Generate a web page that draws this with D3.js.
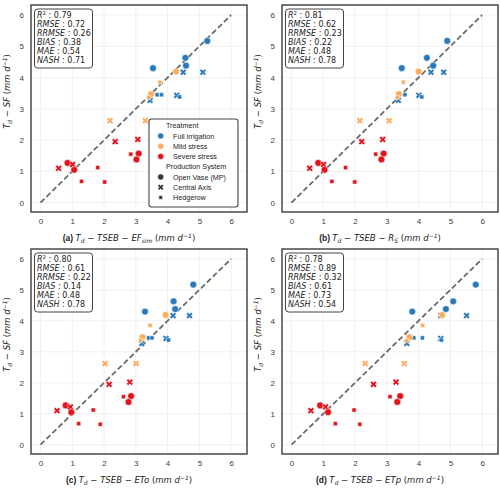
<!DOCTYPE html>
<html><head><meta charset="utf-8">
<script src="https://cdnjs.cloudflare.com/ajax/libs/d3/7.8.5/d3.min.js"></script>
<style>
body{margin:0;background:#fff;}
svg{display:block;}
</style></head>
<body>
<svg id="chart" width="500" height="488"></svg>
<script>
// ---------------- data ----------------
const treatments = ["Full irrigation","Mild stress","Severe stress"];
const systems = ["Open Vase (MP)","Central Axis","Hedgerow"];
const treatment = ["Full irrigation","Full irrigation","Full irrigation","Full irrigation","Full irrigation","Full irrigation","Full irrigation","Full irrigation","Full irrigation","Full irrigation","Full irrigation",
  "Mild stress","Mild stress","Mild stress","Mild stress","Mild stress","Mild stress",
  "Severe stress","Severe stress","Severe stress","Severe stress","Severe stress","Severe stress","Severe stress","Severe stress","Severe stress","Severe stress","Severe stress","Severe stress"];
const system = ["Open Vase (MP)","Open Vase (MP)","Open Vase (MP)","Open Vase (MP)","Central Axis","Central Axis","Hedgerow","Hedgerow","Central Axis","Hedgerow","Central Axis",
  "Open Vase (MP)","Hedgerow","Open Vase (MP)","Hedgerow","Central Axis","Central Axis",
  "Central Axis","Central Axis","Open Vase (MP)","Hedgerow","Open Vase (MP)","Open Vase (MP)","Central Axis","Hedgerow","Central Axis","Open Vase (MP)","Hedgerow","Hedgerow"];
const observedSF = [5.17,4.63,4.38,4.30,4.17,4.17,3.45,3.45,3.43,3.38,3.27,
  4.19,3.85,3.47,3.36,2.62,2.62,
  2.02,1.95,1.57,1.55,1.38,1.27,1.22,1.12,1.10,1.05,0.68,0.66];
const tsebEFsim = [5.25,4.56,4.58,3.54,4.49,5.11,3.67,3.81,4.29,4.38,3.45,
  4.27,3.76,3.48,3.41,2.19,3.30,
  3.06,2.35,3.09,2.84,3.02,0.85,1.01,1.80,0.57,1.06,1.29,2.02];
const tsebRs = [4.90,4.26,4.46,3.47,4.39,4.79,3.40,3.57,4.01,4.10,3.36,
  4.00,3.52,3.38,3.33,2.15,3.07,
  2.87,2.21,2.90,2.65,2.83,0.84,1.01,1.70,0.57,1.04,1.27,1.99];
const tsebETo = [4.81,4.19,4.24,3.29,4.17,4.69,3.40,3.51,3.95,4.03,3.19,
  3.94,3.45,3.21,3.15,2.03,3.01,
  2.81,2.16,2.85,2.61,2.77,0.79,0.94,1.66,0.52,0.97,1.20,1.88];
const tsebETp = [5.80,5.09,4.86,3.80,4.70,5.51,3.85,4.12,4.70,4.72,3.63,
  4.74,4.13,3.71,3.62,2.32,3.55,
  3.29,2.58,3.42,3.10,3.33,0.90,1.07,1.97,0.61,1.15,1.38,2.15];
const panelLetters = ["(a)","(b)","(c)","(d)"];
const modelSubs = [["EF","sim"],["R","S"],["ETo",""],["ETp",""]];
const statNames = ["RMSE","RRMSE","BIAS","MAE","NASH"];
const statsA = ["0.79","0.72","0.26","0.38","0.54","0.71"];
const statsB = ["0.81","0.62","0.23","0.22","0.48","0.78"];
const statsC = ["0.80","0.61","0.22","0.14","0.48","0.78"];
const statsD = ["0.78","0.89","0.32","0.61","0.73","0.54"];
const ticks = [0,1,2,3,4,5,6];

const xSeries = [tsebEFsim, tsebRs, tsebETo, tsebETp];
const statSeries = [statsA, statsB, statsC, statsD];

// ---------------- styling ----------------
const colors = d3.scaleOrdinal().domain(treatments).range(["#2a7ab9","#fdac5e","#e3121b"]);
const svg = d3.select("#chart");
const SANS = "'Liberation Sans', Arial, sans-serif";
const MATH = "'DejaVu Sans', sans-serif";

const panels = [
  {x0:31, x1:247, y0:5,   y1:212},
  {x0:282,x1:498, y0:5,   y1:212},
  {x0:31, x1:247, y0:249, y1:454},
  {x0:282,x1:498, y0:249, y1:454}
];

function symbolPath(sys, scale){
  const k = scale || 1;
  if (sys === "Open Vase (MP)") return d3.symbol().type(d3.symbolCircle).size(36 * k)();
  if (sys === "Central Axis") return d3.symbol().type(d3.symbolCross).size(28 * k)();
  return d3.symbol().type(d3.symbolSquare).size(17 * k)();
}
function symbolRot(sys){ return sys === "Central Axis" ? " rotate(45)" : ""; }

panels.forEach((p, i) => {
  const g = svg.append("g");
  const x = d3.scaleLinear().domain([-0.3, 6.5]).range([p.x0, p.x1]);
  const y = d3.scaleLinear().domain([-0.3, 6.32]).range([p.y1, p.y0]);

  // grid
  g.append("g").selectAll("line.vx").data(ticks).join("line")
    .attr("x1", d => x(d)).attr("x2", d => x(d)).attr("y1", p.y0).attr("y2", p.y1)
    .attr("stroke", "#ececec").attr("stroke-width", 0.8);
  g.append("g").selectAll("line.hy").data(ticks).join("line")
    .attr("y1", d => y(d)).attr("y2", d => y(d)).attr("x1", p.x0).attr("x2", p.x1)
    .attr("stroke", "#ececec").attr("stroke-width", 0.8);

  // axes tick labels via d3 axes (no tick lines)
  const xa = g.append("g").attr("transform", `translate(0,${p.y1})`)
    .call(d3.axisBottom(x).tickValues(ticks).tickSize(0).tickPadding(6).tickFormat(d3.format("d")));
  const ya = g.append("g").attr("transform", `translate(${p.x0},0)`)
    .call(d3.axisLeft(y).tickValues(ticks).tickSize(0).tickPadding(7).tickFormat(d3.format("d")));
  [xa, ya].forEach(a => {
    a.select(".domain").remove();
    a.selectAll("text").attr("font-family", SANS).attr("font-size", 8).attr("fill", "#3c3c3c");
  });

  // 1:1 line
  g.append("line").attr("x1", x(0)).attr("y1", y(0)).attr("x2", x(6)).attr("y2", y(6))
    .attr("stroke", "#6b6b6b").attr("stroke-width", 1.8).attr("stroke-dasharray", "5.5,2.8");

  // points
  const xs = xSeries[i];
  const pts = observedSF.map((v, k) => ({x: xs[k], y: v, t: treatment[k], s: system[k]}));
  g.append("g").selectAll("path").data(pts).join("path")
    .attr("d", d => symbolPath(d.s))
    .attr("transform", d => `translate(${x(d.x)},${y(d.y)})${symbolRot(d.s)}`)
    .attr("fill", d => colors(d.t)).attr("stroke", "#fff").attr("stroke-width", 0.5);

  // frame
  g.append("rect").attr("x", p.x0).attr("y", p.y0).attr("width", p.x1 - p.x0).attr("height", p.y1 - p.y0)
    .attr("fill", "none").attr("stroke", "#3d3d3d").attr("stroke-width", 1.4);

  // stats box
  const bx = p.x0 + 3.5, by = p.y0 + 4;
  g.append("rect").attr("x", bx).attr("y", by).attr("width", 58).attr("height", 59)
    .attr("rx", 3).attr("fill", "#fff").attr("stroke", "#444").attr("stroke-width", 1);
  const st = statSeries[i];
  const lines = ["R"].concat(statNames);
  lines.forEach((nm, j) => {
    const t = g.append("text").attr("x", bx + 2.5).attr("y", by + 9 + j * 9)
      .attr("font-family", MATH).attr("font-size", 8).attr("fill", "#222");
    t.append("tspan").attr("font-style", "italic").text(nm);
    if (j === 0) t.append("tspan").attr("dy", -3).attr("font-size", 5.5).text("2");
    t.append("tspan").attr("dy", j === 0 ? 3 : 0).text(" : " + st[j]);
  });

  // x label
  const cx = (p.x0 + p.x1) / 2 - 10;
  const xl = g.append("text").attr("x", cx).attr("y", p.y1 + 29).attr("text-anchor", "middle")
    .attr("font-family", MATH).attr("font-size", 8.5).attr("fill", "#222");
  xl.append("tspan").attr("font-family", SANS).attr("font-weight", "bold").text(panelLetters[i] + " ");
  xl.append("tspan").attr("font-style", "italic").text("T");
  xl.append("tspan").attr("font-style", "italic").attr("font-size", 6).attr("dy", 2).text("d");
  xl.append("tspan").attr("dy", -2).text(" − ");
  xl.append("tspan").attr("font-style", "italic").text("TSEB");
  xl.append("tspan").text(" − ");
  xl.append("tspan").attr("font-style", "italic").text(modelSubs[i][0]);
  if (modelSubs[i][1]) {
    xl.append("tspan").attr("font-style", "italic").attr("font-size", 6).attr("dy", 2).text(modelSubs[i][1]);
    xl.append("tspan").attr("dy", -2).text(" (");
  } else {
    xl.append("tspan").text(" (");
  }
  xl.append("tspan").attr("font-style", "italic").text("mm d");
  xl.append("tspan").attr("font-style", "italic").attr("font-size", 6).attr("dy", -3.5).text("−1");
  xl.append("tspan").attr("dy", 3.5).text(")");

  // y label
  const cy = (p.y0 + p.y1) / 2 - 17;
  const ylx = p.x0 - 21;
  const yl = g.append("text").attr("transform", `translate(${ylx},${cy}) rotate(-90)`)
    .attr("text-anchor", "middle").attr("font-family", MATH).attr("font-size", 8.5).attr("fill", "#222");
  yl.append("tspan").attr("font-style", "italic").text("T");
  yl.append("tspan").attr("font-style", "italic").attr("font-size", 6).attr("dy", 2).text("d");
  yl.append("tspan").attr("dy", -2).text(" − ");
  yl.append("tspan").attr("font-style", "italic").text("SF");
  yl.append("tspan").text(" (");
  yl.append("tspan").attr("font-style", "italic").text("mm d");
  yl.append("tspan").attr("font-style", "italic").attr("font-size", 6).attr("dy", -3.5).text("−1");
  yl.append("tspan").attr("dy", 3.5).text(")");
});

// ---------------- legend (panel a) ----------------
const lg = svg.append("g");
const L = {x: 149, y: 119, w: 89, h: 88};
lg.append("rect").attr("x", L.x).attr("y", L.y).attr("width", L.w).attr("height", L.h)
  .attr("rx", 2.5).attr("fill", "#fff").attr("stroke", "#444").attr("stroke-width", 1.1);
const legendItems = [{label: "Treatment", head: true}]
  .concat(treatments.map(t => ({label: t, color: colors(t), sys: "Open Vase (MP)"})))
  .concat([{label: "Production System", head: true}])
  .concat(systems.map(s => ({label: s, color: "#333", sys: s})));
legendItems.forEach((it, j) => {
  const yy = L.y + 6.7 + j * 10.25;
  if (!it.head) {
    lg.append("path").attr("d", symbolPath(it.sys, 0.8))
      .attr("transform", `translate(${L.x + 11.7},${yy})${symbolRot(it.sys)}`)
      .attr("fill", it.color).attr("stroke", "#fff").attr("stroke-width", 0.5);
  }
  lg.append("text").attr("x", L.x + (it.head ? 17 : 24)).attr("y", yy + 2.6)
    .attr("font-family", SANS).attr("font-size", 7.2).attr("fill", "#222").text(it.label);
});
</script>
</body></html>
